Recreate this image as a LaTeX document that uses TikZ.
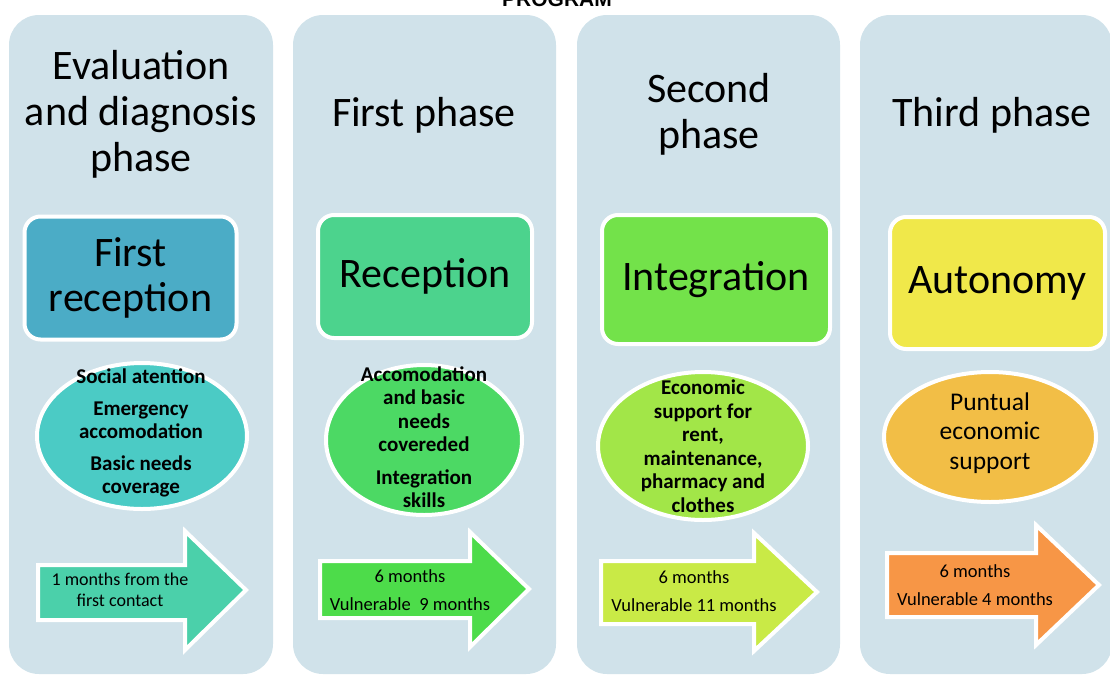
\documentclass[tikz,border=0pt]{standalone}
\usepackage{fontspec}
\setmainfont{Carlito}
\newfontfamily\headfont{Liberation Sans}
\usetikzlibrary{positioning}

\definecolor{panelblue}{RGB}{208,226,234}
\definecolor{firstbox}{RGB}{75,172,198}
\definecolor{secondbox}{RGB}{76,211,141}
\definecolor{thirdbox}{RGB}{115,226,74}
\definecolor{fourthbox}{RGB}{240,232,74}
\definecolor{firstbubble}{RGB}{75,203,197}
\definecolor{secondbubble}{RGB}{76,217,100}
\definecolor{thirdbubble}{RGB}{162,230,72}
\definecolor{fourthbubble}{RGB}{242,190,70}
\definecolor{firstarrow}{RGB}{75,208,170}
\definecolor{secondarrow}{RGB}{77,220,74}
\definecolor{thirdarrow}{RGB}{201,234,70}
\definecolor{fourtharrow}{RGB}{247,150,70}

\tikzset{
  panel/.style={fill=panelblue, rounded corners=30pt},
  phasetitle/.style={align=center, font=\fontsize{42}{46}\selectfont},
  stagebox/.style={draw=white, line width=4pt, rounded corners=16pt, inner sep=0pt,
    align=center, font=\fontsize{42}{45}\selectfont},
  bubble/.style={draw=white, line width=4pt},
  bubbletext/.style={align=center, font=\bfseries\fontsize{21}{23.5}\selectfont},
  timearrow/.style={draw=white, line width=4pt, line join=miter},
  timetext/.style={align=center, font=\fontsize{18.5}{28}\selectfont},
}

\begin{document}
\begin{tikzpicture}[x=1pt, y=-1pt]
\useasboundingbox (0,0) rectangle (1110,675);

% heading, half cut by the top edge
\node[font=\headfont\bfseries\fontsize{21}{24}\selectfont, anchor=base] (program) at (557,6) {PROGRAM};

% the four phase panels
\fill[panel] (9,15) rectangle (273,674);
\fill[panel] (293,15) rectangle (556,674);
\fill[panel] (577,15) rectangle (840,674);
\fill[panel] (860,15) rectangle (1112,674);

% phase names
\node[phasetitle] (evalhead) at (141,114) {Evaluation\\and diagnosis\\phase};
\node[phasetitle] (firsthead) at (424,115) {First phase};
\node[phasetitle] (secondhead) at (709,114) {Second\\phase};
\node[phasetitle] (thirdhead) at (992,115) {Third phase};

% stages
\node[stagebox, fill=firstbox, minimum width=212pt, minimum height=123pt] (firstrec) at (130.5,278) {First\\reception};
\node[stagebox, fill=secondbox, minimum width=214pt, minimum height=123pt] (reception) at (425,276.5) {Reception};
\node[stagebox, fill=thirdbox, minimum width=228pt, minimum height=129pt] (integration) at (716,279.5) {Integration};
\node[stagebox, fill=fourthbox, minimum width=215pt, minimum height=132pt] (autonomy) at (997.5,283) {Autonomy};

% services
\draw[bubble, fill=firstbubble] (142,436) ellipse [x radius=105pt, y radius=73pt];
\draw[bubble, fill=secondbubble] (424,440) ellipse [x radius=98pt, y radius=75pt];
\draw[bubble, fill=thirdbubble] (703,446) ellipse [x radius=105pt, y radius=74pt];
\draw[bubble, fill=fourthbubble] (990,437) ellipse [x radius=106pt, y radius=65pt];

\node[bubbletext] (firsttasks) at (141,433) {Social atention\\[8pt]Emergency\\accomodation\\[8pt]Basic needs\\coverage};
\node[bubbletext] (secondtasks) at (424,437) {Accomodation\\and basic\\needs\\covereded\\[9pt]Integration\\skills};
\node[bubbletext] (thirdtasks) at (703,446) {Economic\\support for\\rent,\\maintenance,\\pharmacy and\\clothes};
\node[align=center, font=\fontsize{25.5}{29.5}\selectfont] (fourthtasks) at (990,433) {Puntual\\economic\\support};

% durations
\filldraw[timearrow, fill=firstarrow] (38,565) -- (185,565) -- (185,531) -- (246,590) -- (185,650) -- (185,620) -- (38,620) -- cycle;
\filldraw[timearrow, fill=secondarrow] (320,561) -- (470,561) -- (470,532) -- (529,589) -- (470,647) -- (470,618) -- (320,618) -- cycle;
\filldraw[timearrow, fill=thirdarrow] (601,561) -- (754,561) -- (754,533) -- (817,592) -- (754,651) -- (754,624) -- (601,624) -- cycle;
\filldraw[timearrow, fill=fourtharrow] (887,553) -- (1036,553) -- (1036,525) -- (1099,585) -- (1036,645) -- (1036,617) -- (887,617) -- cycle;

\node[timetext, font=\fontsize{18}{21}\selectfont] (firstspan) at (120,590) {1 months from the\\first contact};
\node[timetext] (secondspan) at (410,590) {6 months\\Vulnerable~~9 months};
\node[timetext] (thirdspan) at (694,591) {6 months\\Vulnerable 11 months};
\node[timetext] (fourthspan) at (975,585) {6 months\\Vulnerable 4 months};

\end{tikzpicture}
\end{document}
